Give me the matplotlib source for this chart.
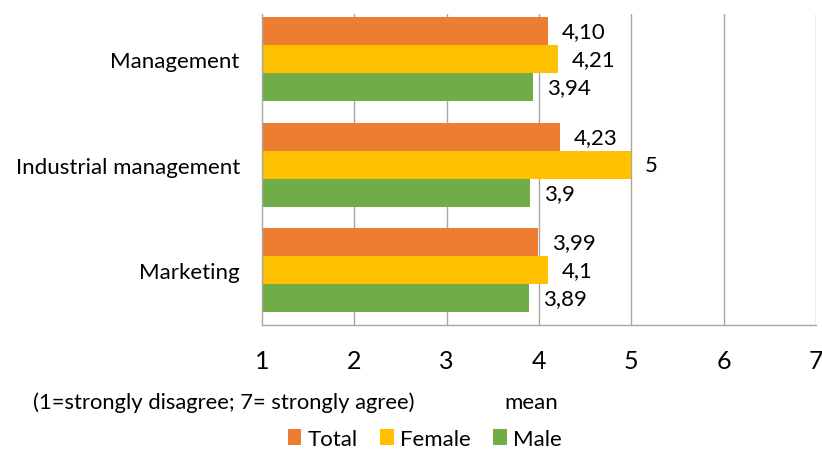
import numpy as np
import matplotlib.pyplot as plt
from matplotlib.patches import Patch

plt.rcParams['font.family'] = ['Lato', 'DejaVu Sans']

# --- データ ---
categories = ['Management', 'Industrial management', 'Marketing']
series_names = ['Total', 'Female', 'Male']
total = [4.10, 4.23, 3.99]
female = [4.21, 5.0, 4.1]
male = [3.94, 3.9, 3.89]
total_labels = ['4,10', '4,23', '3,99']
female_labels = ['4,21', '5', '4,1']
male_labels = ['3,94', '3,9', '3,89']
colors = ['#ED7D31', '#FFC000', '#70AD47']
xticks = [1, 2, 3, 4, 5, 6, 7]

fig = plt.figure(figsize=(8.22, 4.52), dpi=100)
ax = fig.add_axes([262 / 822, 1 - 326 / 452, (816 - 262) / 822, (326 - 15) / 452])

y = np.arange(len(categories))
h = 0.266
grid_c = '#A6A6A6'

for x in xticks[1:]:
    ax.axvline(x, color=grid_c, lw=1.0, zorder=0)

values = [total, female, male]
labels = [total_labels, female_labels, male_labels]
for i, (vals, labs, c) in enumerate(zip(values, labels, colors)):
    pos = y + (i - 1) * h
    ax.barh(pos, np.array(vals) - 1, left=1, height=h, color=c, zorder=2)
    for p, v, lab in zip(pos, vals, labs):
        ax.text(v + 0.15, p, lab, va='center', ha='left', fontsize=16, color='black')

ax.set_xlim(1, 7)
ax.set_ylim(2.52, -0.43)
ax.set_xticks(xticks)
ax.set_xticklabels([str(t) for t in xticks], fontsize=18)
ax.set_yticks(y)
ax.set_yticklabels(categories, fontsize=16)
ax.tick_params(axis='x', length=0, pad=17)
ax.tick_params(axis='y', length=0, pad=16)
for s in ['top', 'right']:
    ax.spines[s].set_visible(False)
for s in ['left', 'bottom']:
    ax.spines[s].set_color(grid_c)
    ax.spines[s].set_linewidth(1.0)

fig.text(33 / 822, 1 - 403 / 452, '(1=strongly disagree; 7= strongly agree)', fontsize=15.8, va='center', ha='left')
fig.text(531 / 822, 1 - 403 / 452, 'mean', fontsize=16, va='center', ha='center')

handles = [Patch(facecolor=c, edgecolor='none') for c in colors]
fig.legend(handles, series_names, loc='center', bbox_to_anchor=(425 / 822, 1 - 440 / 452),
           ncol=3, frameon=False, fontsize=16, handlelength=0.6, handleheight=0.7,
           handletextpad=0.3, columnspacing=1.0)

fig.savefig('out.png', dpi=100)
